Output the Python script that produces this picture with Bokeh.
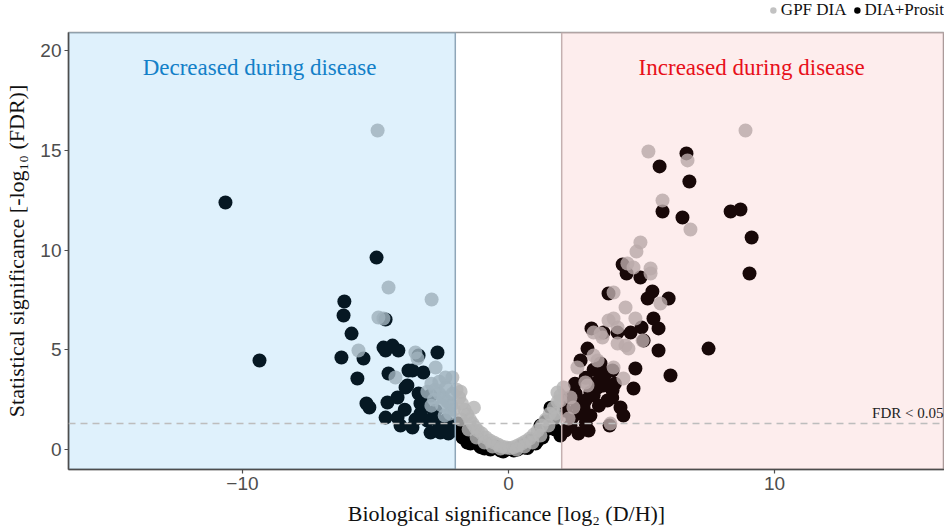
from bokeh.plotting import figure
from bokeh.layouts import column
from bokeh.models import FixedTicker, Span, Legend, LegendItem
from bokeh.core.properties import value
from bokeh.embed import file_html
from bokeh.resources import INLINE

# ---------------- data ----------------
prosit_x = [-10.64, -9.36, -4.96, -6.17, -6.20, -4.62, -5.90, -4.70, -4.36, -4.14, -4.62, -5.45, -6.28,
            -2.67, -3.38, -5.68, -4.51, -3.76, -3.61, -3.20, -3.80, -4.17, -4.55, -5.23, -5.34, -3.31,
            -4.62, -4.17, -4.06, -3.61, -3.31, -2.93, -2.56, -2.26, -3.87, -3.20, -2.93, -2.74, -2.37,
            -3.05, -2.11, -3.38, -2.60, -2.80, -3.50, -2.30, -3.90,
            -2.0, -1.73, -1.43, -1.05, -0.68, -0.30, 0.0, 0.34, 0.71, 1.02, 1.28, 1.50, 1.69, 1.58, 1.20,
            -1.9, -1.6, -1.2, -0.85, -0.5, 0.5, 0.85, 1.4, -1.55, -0.9, -0.2, 0.2, 0.6, 1.1, 1.75,
            6.69, 5.68, 6.80, 5.79, 6.54, 8.35, 8.72, 9.14, 9.06, 7.52, 6.09, 4.29, 4.44, 4.96, 3.76,
            5.41, 5.23, 6.02, 5.45, 5.64, 3.12, 3.57, 4.10, 4.59, 5.00, 5.08, 5.64, 2.97, 2.71, 4.77,
            3.91, 4.70, 3.27, 3.72, 4.21, 4.32, 2.89, 3.08, 3.01, 2.63, 3.46, 3.65, 3.35, 3.57, 2.52,
            2.71, 2.82, 3.20, 3.46, 2.14, 2.26, 2.33, 1.95, 2.14, 3.08, 3.91,
            3.20, 3.60, 2.90, 3.90, 3.40, 2.60, 2.40, 3.80, 4.00, 2.90, 2.50]
prosit_y = [12.38, 4.46, 9.62, 7.42, 6.72, 6.52, 5.81, 5.11, 5.21, 4.96, 4.96, 4.56, 4.61,
            4.86, 4.71, 3.56, 3.81, 3.96, 3.96, 3.86, 3.21, 2.61, 2.36, 2.11, 2.31, 2.31,
            1.60, 1.60, 1.20, 1.10, 1.80, 0.85, 0.85, 0.80, 3.11, 2.11, 2.71, 1.95, 1.45,
            1.45, 1.20, 2.81, 1.20, 1.70, 1.50, 0.95, 2.00,
            0.95, 0.60, 0.30, 0.12, 0.0, -0.05, 0.02, 0.0, 0.08, 0.30, 0.60, 1.05, 1.55, 2.10, 1.20,
            1.3, 0.9, 0.5, 0.3, 0.15, 0.2, 0.45, 1.4, 0.35, 0.05, -0.1, -0.05, 0.1, 0.45, 1.0,
            14.84, 14.19, 13.43, 11.93, 11.63, 11.93, 12.03, 10.63, 8.82, 5.06, 3.71, 9.27, 8.82, 8.62, 7.82,
            7.92, 7.57, 7.57, 6.57, 6.07, 6.07, 5.86, 5.86, 5.86, 6.12, 5.46, 4.96, 5.06, 4.46, 4.06,
            3.96, 3.06, 3.31, 2.46, 2.11, 1.70, 2.46, 1.70, 0.95, 0.80, 4.31, 3.81, 3.11, 3.21, 2.81,
            1.80, 2.11, 2.71, 3.71, 1.95, 2.56, 1.20, 0.70, 0.95, 2.86, 2.96,
            4.00, 3.40, 3.60, 2.60, 2.20, 2.20, 1.60, 1.20, 3.30, 1.30, 3.30]

gpf_x = [-4.92, -4.51, -2.89, -4.89, -4.70, -5.64, -3.50, -3.42, -4.25, -2.74, -2.37, -2.11,
         -2.9, -2.75, -2.6, -2.45, -2.3, -2.15, -2.05, -2.8, -2.5, -2.2, -2.6, -2.35, -2.1, -3.05, -2.9, -2.4,
         -1.95, -1.85, -1.75, -1.65, -1.55, -1.45, -1.35, -1.25, -1.15, -1.0, -0.85, -0.7, -0.55, -0.4,
         -0.25, -0.1, 0.05, 0.2, 0.35, 0.5, 0.65, 0.8, 0.95, 1.1, 1.25, 1.4, 1.55, 1.7, 1.85, 1.95,
         -1.8, -1.5, -1.2, -0.9, -0.6, -0.3, 0.3, 0.6, 0.9, 1.2, 1.5, 1.8, -1.8, -1.3,
         8.91, 5.26, 6.73, 5.79, 6.84, 4.96, 4.81, 4.47, 5.34, 5.34, 4.70, 3.95, 5.71, 4.40, 4.10,
         3.95, 3.76, 4.77, 3.46, 3.20, 3.53, 5.04, 4.10, 4.51, 4.40, 3.20, 3.35, 2.59, 3.95, 4.32,
         2.89, 2.97, 2.07, 1.84, 2.33, 2.44, 3.83, 2.26, 1.77, 1.95]
gpf_y = [15.99, 8.12, 7.52, 6.62, 6.57, 4.96, 4.86, 4.56, 3.61, 4.11, 3.61, 3.61,
         3.3, 3.0, 2.8, 2.6, 2.4, 2.2, 2.0, 2.5, 2.2, 1.8, 3.4, 3.1, 2.8, 2.9, 2.2, 1.7,
         3.0, 2.6, 2.3, 2.0, 1.75, 1.5, 1.3, 1.1, 0.95, 0.8, 0.6, 0.45, 0.35, 0.25,
         0.15, 0.1, 0.08, 0.12, 0.2, 0.3, 0.42, 0.55, 0.75, 0.95, 1.2, 1.5, 1.8, 2.1, 2.4, 2.7,
         1.5, 1.0, 0.6, 0.35, 0.15, 0.05, 0.0, 0.15, 0.35, 0.7, 1.2, 1.6, 2.9, 2.1,
         15.99, 14.94, 14.49, 12.48, 11.03, 10.38, 9.92, 9.32, 9.07, 8.82, 9.12, 7.87, 7.32, 7.12, 6.12,
         6.57, 6.47, 6.57, 5.81, 5.86, 5.61, 5.46, 5.31, 5.06, 5.21, 4.71, 4.46, 4.11, 4.11, 3.56,
         3.36, 3.21, 3.11, 2.86, 2.61, 2.11, 1.30, 1.55, 1.80, 2.46]

x_ticks = [-10, 0, 10]
y_ticks = [0, 5, 10, 15, 20]
fc_cut = 2
fdr_line = 1.3
region_labels = ["Decreased during disease", "Increased during disease"]
series_names = ["GPF DIA", "DIA+Prosit"]

X0, X1 = -16.54, 16.39
Y0, Y1 = -1.0, 20.9

SERIF = "Liberation Serif"
SANS = "Liberation Sans"
BLACK = "#000000"
GREY = "#b4b4b4"
NAN = float("nan")

# ---------------- legend strip ----------------
leg = figure(width=944, height=30, x_range=(0, 1), y_range=(0, 1), output_backend="svg",
             toolbar_location=None, x_axis_type=None, y_axis_type=None,
             min_border_left=0, min_border_right=0, min_border_top=0, min_border_bottom=0)
leg.outline_line_color = None
leg.xgrid.visible = False
leg.ygrid.visible = False
# key-only renderers (no drawable point; they only supply the legend swatches)
lg_g = leg.scatter(x=[NAN], y=[NAN], size=14, fill_color="#c2c2c2", line_color=None)
lg_b = leg.scatter(x=[NAN], y=[NAN], size=14, fill_color=BLACK, line_color=None)
legend = Legend(items=[LegendItem(label=series_names[0], renderers=[lg_g]),
                       LegendItem(label=series_names[1], renderers=[lg_b])],
                orientation="horizontal", location="top_right",
                label_text_font=SERIF, label_text_font_size="17px", label_text_color="#111111",
                glyph_width=16, glyph_height=16, label_standoff=0, spacing=2,
                padding=4, margin=0, border_line_color=None, background_fill_alpha=0)
leg.add_layout(legend)

# ---------------- main plot ----------------
p = figure(width=944, height=501, x_range=(X0, X1), y_range=(Y0, Y1),
           output_backend="svg", toolbar_location=None,
           min_border_left=68, min_border_right=0, min_border_top=2, min_border_bottom=62)
p.background_fill_color = "white"
p.border_fill_color = "white"
p.xgrid.visible = False
p.ygrid.visible = False
p.outline_line_color = "#9a9a9a"
p.outline_line_width = 1.5

p.scatter(prosit_x, prosit_y, size=14, fill_color=BLACK, line_color=None, fill_alpha=1.0)
p.scatter(gpf_x, gpf_y, size=14, fill_color=GREY, line_color=None, fill_alpha=0.82)

# shaded regions, drawn over the points
p.quad(left=[X0], right=[-fc_cut], bottom=[Y0], top=[Y1], fill_color="#2aa2eb", fill_alpha=0.15,
       line_color="#8fa6b8", line_width=1.5)
p.quad(left=[fc_cut], right=[X1], bottom=[Y0], top=[Y1], fill_color="#eb4b4b", fill_alpha=0.10,
       line_color="#c4b0b0", line_width=1.5)

p.add_layout(Span(location=fdr_line, dimension="width", line_color="#bdbdbd",
                  line_dash="7 5", line_width=1.5))

p.text(x=[-9.36], y=[19.15], text=[region_labels[0]], text_align="center", text_baseline="middle",
       text_font=value(SERIF), text_font_size="23px", text_color="#1380c8")
p.text(x=[9.14], y=[19.15], text=[region_labels[1]], text_align="center", text_baseline="middle",
       text_font=value(SERIF), text_font_size="23px", text_color="#e8101a")
p.text(x=[X1], y=[fdr_line], text=["FDR < 0.05"], text_align="right", text_baseline="bottom",
       x_offset=-1, y_offset=-3, text_font=value(SERIF), text_font_size="15px", text_color="#222222")

for ax in (p.xaxis[0], p.yaxis[0]):
    ax.axis_line_color = "#4d4d4d"
    ax.axis_line_width = 1.5
    ax.major_tick_line_color = "#4d4d4d"
    ax.major_tick_line_width = 1.2
    ax.major_tick_out = 4
    ax.major_tick_in = 0
    ax.minor_tick_line_color = None
    ax.major_label_text_font = SANS
    ax.major_label_text_font_size = "19px"
    ax.major_label_text_color = "#4d4d4d"
    ax.axis_label_text_font = SERIF
    ax.axis_label_text_font_size = "22px"
    ax.axis_label_text_font_style = "normal"
    ax.axis_label_text_color = "#111111"

p.xaxis.ticker = FixedTicker(ticks=x_ticks)
p.yaxis.ticker = FixedTicker(ticks=y_ticks)
p.xaxis.major_label_standoff = 3
p.yaxis.major_label_standoff = 3
p.xaxis.axis_label = "Biological significance [log₂ (D/H)]"
p.yaxis.axis_label = "Statistical significance [-log₁₀ (FDR)]"
p.xaxis.axis_label_standoff = 8
p.yaxis.axis_label_standoff = 8

layout = column(leg, p, spacing=0)
open("out.html", "w").write(file_html(layout, INLINE))
